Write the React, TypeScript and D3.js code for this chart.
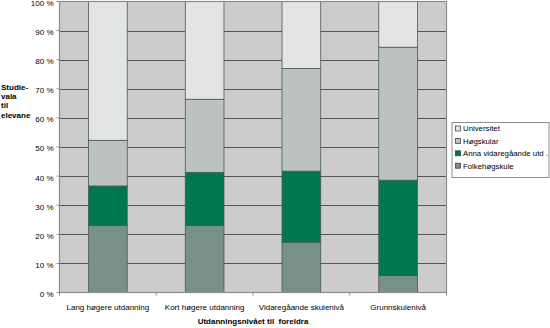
import React from "react";
import * as d3 from "d3";

const categories = ["Lang høgere utdanning", "Kort høgere utdanning", "Vidaregåande skulenivå", "Grunnskulenivå"];
const seriesNames = ["Folkehøgskule", "Anna vidaregåande utd .", "Høgskular", "Universitet"];
const folkehogskule = [23.0, 23.0, 17.3, 5.8];
const annaVgs = [13.6, 18.3, 24.4, 32.8];
const hogskular = [15.7, 25.1, 35.3, 45.7];
const universitet = [47.7, 33.6, 23.0, 15.7];
const yTicks = [0, 10, 20, 30, 40, 50, 60, 70, 80, 90, 100];
const yTitleLines = ["Studie-", "vala", "til", "elevane"];
const colors = ["#77918a", "#00784f", "#bcc2bf", "#e3e5e3"];
const legendOrder = [3, 2, 1, 0];

const W = 550, H = 328;
const L = 59.5, R = 446.5, T = 1.5, B = 292.5;
const FONT = "'Liberation Sans', Arial, Helvetica, sans-serif";

export default function App() {
  const rows = categories.map((c, i) => ({
    cat: c,
    s0: folkehogskule[i],
    s1: annaVgs[i],
    s2: hogskular[i],
    s3: universitet[i],
  }));
  const stack = d3.stack<any>().keys(["s0", "s1", "s2", "s3"]);
  const stacked = stack(rows);
  const x = d3.scaleBand<string>().domain(categories).range([L, R]).paddingInner(0.6).paddingOuter(0.3);
  const y = d3.scaleLinear().domain([0, 100]).range([B, T]);
  const step = x.step();

  return (
    <svg width={W} height={H} style={{ position: "absolute", left: 0, top: 0 }} fontFamily={FONT}>
      <rect x={L} y={T} width={R - L} height={B - T} fill="#cccccc" />
      {yTicks.filter(t => t > 0 && t < 100).map(t => (
        <line key={t} x1={L} x2={R} y1={Math.round(y(t)) + 0.5} y2={Math.round(y(t)) + 0.5} stroke="#555" strokeWidth={1} />
      ))}
      {stacked.map((s, si) => (
        <g key={si}>
          {s.map((d, i) => (
            <rect key={i} x={x(categories[i])} y={y(d[1])} width={x.bandwidth()} height={y(d[0]) - y(d[1])}
              fill={colors[si]} stroke="#4b5853" strokeWidth={0.8} />
          ))}
        </g>
      ))}
      <rect x={L} y={T} width={R - L} height={B - T} fill="none" stroke="#8c8c8c" strokeWidth={1.2} />
      {yTicks.map(t => (
        <g key={t}>
          <line x1={L - 3} x2={L} y1={y(t)} y2={y(t)} stroke="#8c8c8c" />
          <text x={53.5} y={y(t) + 1.6} dy="0.35em" textAnchor="end" fontSize={8} fill="#000">{t} %</text>
        </g>
      ))}
      {d3.range(categories.length + 1).map(i => (
        <line key={i} x1={L + i * step} x2={L + i * step} y1={B} y2={B + 3} stroke="#8c8c8c" />
      ))}
      {categories.map(c => (
        <text key={c} x={(x(c) as number) + x.bandwidth() / 2} y={307} dy="0.35em" textAnchor="middle" fontSize={8}>{c}</text>
      ))}
      <text x={(L + R) / 2} y={321.5} dy="0.35em" textAnchor="middle" fontSize={8} fontWeight="bold" style={{ whiteSpace: "pre" }}>Utdanningsnivået til  foreldra</text>
      {yTitleLines.map((t, i) => (
        <text key={i} x={1} y={87 + i * 9.3} dy="0.35em" fontSize={8} fontWeight="bold">{t}</text>
      ))}
      <rect x={452} y={122.5} width={97} height={55} fill="#fff" stroke="#8c8c8c" strokeWidth={1} />
      {legendOrder.map((si, k) => (
        <g key={si}>
          <rect x={455.5} y={126 + k * 12.4} width={5} height={5} fill={colors[si]} stroke="#333" strokeWidth={0.7} />
          <text x={463} y={128.7 + k * 12.4} dy="0.35em" fontSize={7.8}>{seriesNames[si]}</text>
        </g>
      ))}
    </svg>
  );
}
